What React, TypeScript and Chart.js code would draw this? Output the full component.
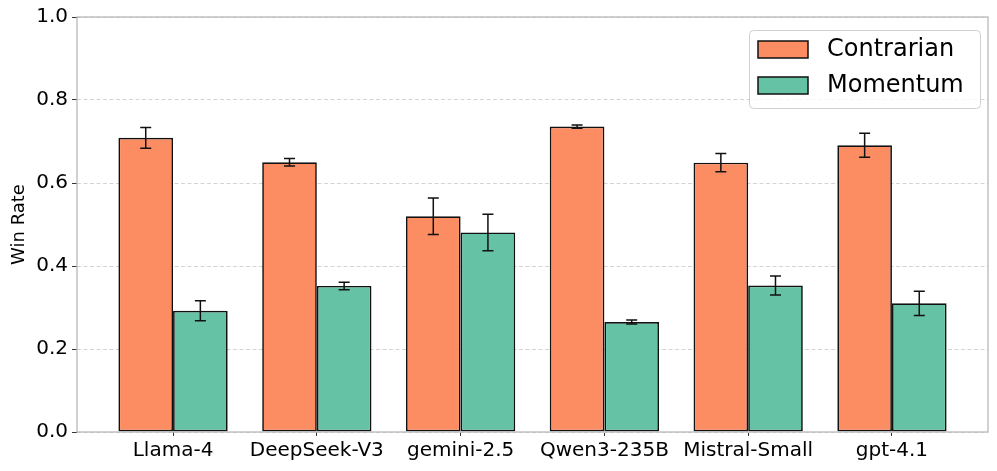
import { useEffect, useRef } from "react";
import { Chart, registerables } from "chart.js";

Chart.register(...registerables);

const models = ["Llama-4", "DeepSeek-V3", "gemini-2.5", "Qwen3-235B", "Mistral-Small", "gpt-4.1"];
const contrarian = [0.709, 0.650, 0.520, 0.736, 0.649, 0.691];
const contrarianErr = [0.025, 0.009, 0.044, 0.004, 0.022, 0.029];
const momentum = [0.292, 0.352, 0.481, 0.265, 0.353, 0.310];
const momentumErr = [0.024, 0.009, 0.044, 0.005, 0.023, 0.029];
const yTicks = [0, 0.2, 0.4, 0.6, 0.8, 1.0];

const FONT = "'DejaVu Sans', sans-serif";
const ORANGE = "#fc8d62";
const GREEN = "#66c2a5";

const framePlugin = {
  id: "frame",
  afterDatasetsDraw(chart: any) {
    const { ctx, chartArea } = chart;
    ctx.save();
    ctx.strokeStyle = "#b8b8b8";
    ctx.lineWidth = 1.3;
    ctx.strokeRect(chartArea.left, chartArea.top, chartArea.right - chartArea.left, chartArea.bottom - chartArea.top);
    ctx.restore();
  },
};

const errorBarPlugin = {
  id: "errorBars",
  afterDatasetsDraw(chart: any) {
    const { ctx } = chart;
    const yScale = chart.scales.y;
    ctx.save();
    ctx.strokeStyle = "#111";
    ctx.lineWidth = 1.5;
    chart.data.datasets.forEach((ds: any, di: number) => {
      const meta = chart.getDatasetMeta(di);
      meta.data.forEach((bar: any, i: number) => {
        const v = ds.data[i].y;
        const e = ds.errors[i];
        const yt = yScale.getPixelForValue(v + e);
        const yb = yScale.getPixelForValue(v - e);
        const x = bar.x;
        const cap = 5.5;
        ctx.beginPath();
        ctx.moveTo(x, yt);
        ctx.lineTo(x, yb);
        ctx.moveTo(x - cap, yt);
        ctx.lineTo(x + cap, yt);
        ctx.moveTo(x - cap, yb);
        ctx.lineTo(x + cap, yb);
        ctx.stroke();
      });
    });
    ctx.restore();
  },
};

const legendPlugin = {
  id: "customLegend",
  afterDraw(chart: any) {
    const { ctx, chartArea } = chart;
    const w = 231;
    const h = 78;
    const x0 = chartArea.right - 8 - w;
    const y0 = chartArea.top + 13;
    ctx.save();
    ctx.beginPath();
    (ctx as any).roundRect(x0 + 0.5, y0 + 0.5, w, h, 4);
    ctx.fillStyle = "rgba(255,255,255,0.8)";
    ctx.fill();
    ctx.strokeStyle = "#d0d0d0";
    ctx.lineWidth = 1;
    ctx.stroke();
    ctx.font = `24px ${FONT}`;
    ctx.textBaseline = "middle";
    ctx.textAlign = "left";
    chart.data.datasets.forEach((ds: any, i: number) => {
      const sy = y0 + 11 + i * 36;
      ctx.fillStyle = ds.backgroundColor;
      ctx.fillRect(x0 + 9, sy, 50, 17);
      ctx.strokeStyle = "#111";
      ctx.lineWidth = 1.5;
      ctx.strokeRect(x0 + 9, sy, 50, 17);
      ctx.fillStyle = "#000";
      ctx.fillText(ds.label, x0 + 78, sy + 9);
    });
    ctx.restore();
  },
};

export default function App() {
  const canvasRef = useRef<HTMLCanvasElement>(null);

  useEffect(() => {
    if (!canvasRef.current) return;
    const chart = new Chart(canvasRef.current, {
      type: "bar",
      data: {
        datasets: [
          {
            label: "Contrarian",
            data: contrarian.map((v, i) => ({ x: i, y: v })),
            errors: contrarianErr,
            backgroundColor: ORANGE,
            borderColor: "#111",
            borderWidth: 1.7,
            borderSkipped: false,
          } as any,
          {
            label: "Momentum",
            data: momentum.map((v, i) => ({ x: i, y: v })),
            errors: momentumErr,
            backgroundColor: GREEN,
            borderColor: "#111",
            borderWidth: 1.7,
            borderSkipped: false,
          } as any,
        ],
      },
      options: {
        animation: false,
        responsive: false,
        maintainAspectRatio: false,
        datasets: { bar: { categoryPercentage: 0.76, barPercentage: 1.0 } },
        layout: { padding: { top: 17, right: 9, left: 0, bottom: 0 } },
        plugins: { legend: { display: false }, tooltip: { enabled: false } },
        scales: {
          x: {
            type: "linear",
            min: -0.668,
            max: 5.668,
            offset: false,
            grid: { display: true, offset: false, drawOnChartArea: false, drawTicks: true, tickLength: 4, tickColor: "#333", tickWidth: 1 },
            border: { display: false },
            afterBuildTicks: (scale: any) => {
              scale.ticks = models.map((_, i) => ({ value: i }));
            },
            afterFit: (scale: any) => {
              scale.height = 39;
            },
            ticks: {
              autoSkip: false,
              maxRotation: 0,
              padding: 3,
              color: "#000",
              font: { family: FONT, size: 20 },
              callback: (v: any) => models[Math.round(Number(v))] ?? "",
            },
          },
          y: {
            type: "linear",
            min: 0,
            max: 1,
            grid: { color: "#d4d4d4", lineWidth: 1, drawTicks: true, tickLength: 5, tickColor: "#333", tickBorderDash: [] } as any,
            border: { display: false, dash: [4, 2.5] },
            afterBuildTicks: (scale: any) => {
              scale.ticks = yTicks.map((v) => ({ value: v }));
            },
            afterFit: (scale: any) => {
              scale.width = 77;
            },
            ticks: {
              padding: 4,
              color: "#000",
              font: { family: FONT, size: 20 },
              callback: (v: any) => Number(v).toFixed(1),
            },
            title: {
              display: true,
              text: "Win Rate",
              color: "#000",
              font: { family: FONT, size: 18 },
              padding: { top: 9, bottom: 0 },
            },
          },
        },
      },
      plugins: [framePlugin, errorBarPlugin, legendPlugin],
    } as any);
    return () => chart.destroy();
  }, []);

  return (
    <div style={{ position: "fixed", left: 0, top: 0, width: 997, height: 471, background: "#fff" }}>
      <canvas ref={canvasRef} width={997} height={471} style={{ width: 997, height: 471 }} />
    </div>
  );
}
